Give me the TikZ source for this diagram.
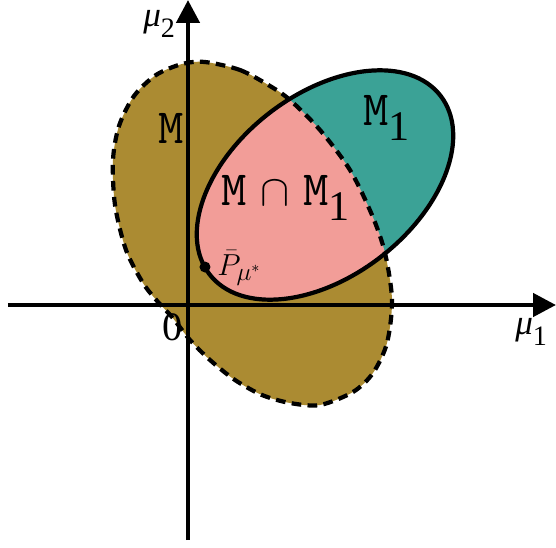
\documentclass[tikz,border=0pt]{standalone}
\usepackage{fontspec}
\setmainfont{Liberation Serif}
\usetikzlibrary{arrows.meta}
\definecolor{mgold}{RGB}{171,139,50}
\definecolor{mteal}{RGB}{59,162,150}
\definecolor{mpink}{RGB}{242,157,152}
\newcommand\lowsub[2]{\raisebox{-0.32em}{\fontsize{#1}{#1}\selectfont #2}}
\tikzset{
  axisline/.style={line width=2.6pt,-{Triangle[length=13pt,width=13pt]}},
  mdash/.style={line width=2.4pt,dash pattern=on 5.5pt off 3.6pt},
  msolid/.style={line width=2.4pt},
  setlabel/.style={font=\fontsize{28}{30}\selectfont\ttfamily,inner sep=0pt},
  axlabel/.style={font=\fontsize{20}{22}\selectfont,inner sep=0pt},
}
\begin{document}
\begin{tikzpicture}[x=0.02cm,y=0.02cm]
\useasboundingbox (0,0) rectangle (556,-548);
\def\Mshape{plot[smooth cycle] coordinates {(205,-62) (240,-70) (270,-86) (290,-100) (320,-130) (350,-170) (372,-215) (385,-253) (392,-300) (387,-343) (373,-373) (353,-392) (320,-405) (290,-403) (262,-395) (235,-380) (210,-360) (190,-340) (172,-317) (158,-302) (143,-283) (126,-250) (115,-205) (113,-160) (119,-126) (134,-96) (156,-75) (182,-64)}}
\def\Eshape{[rotate around={37.7:(325,-185)}] (325,-185) ellipse [x radius=146, y radius=91]}
% fills
\fill[mgold] \Mshape;
\fill[mteal] \Eshape;
\begin{scope}
  \clip \Mshape;
  \fill[mpink] \Eshape;
\end{scope}
% axes
\coordinate (xs) at (8,-305);
\coordinate (xe) at (556,-305);
\coordinate (ys) at (188,-540);
\coordinate (ye) at (188,0);
\draw[axisline] (xs) -- (xe);
\draw[axisline] (ys) -- (ye);
% outlines
\draw[mdash] \Mshape;
\draw[msolid] \Eshape;
% point
\fill (205,-267) circle (5.5) coordinate (p);
\node[anchor=west,inner sep=0pt] (plab) at (217,-268) {\fontsize{19}{21}\selectfont$\bar{P}_{\mu^*}$};
% labels
\node[setlabel] (lm) at (171,-128) {M};
\node[setlabel,anchor=west] (lm1) at (363,-118) {M\lowsub{24}{\rmfamily 1}};
\node[setlabel,anchor=west] (lmm) at (221,-198) {M\;{\fontsize{34}{34}\selectfont$\cap$}\;M\lowsub{24}{\rmfamily 1}};
\node[axlabel,anchor=west] (mu2) at (143,-24) {\textit{μ}\lowsub{16}{2}};
\node[axlabel,anchor=west] (mu1) at (515,-332) {\textit{μ}\lowsub{16}{1}};
\node[inner sep=0pt,font=\fontsize{23}{25}\selectfont] (zero) at (173,-327) {0};
\end{tikzpicture}
\end{document}
